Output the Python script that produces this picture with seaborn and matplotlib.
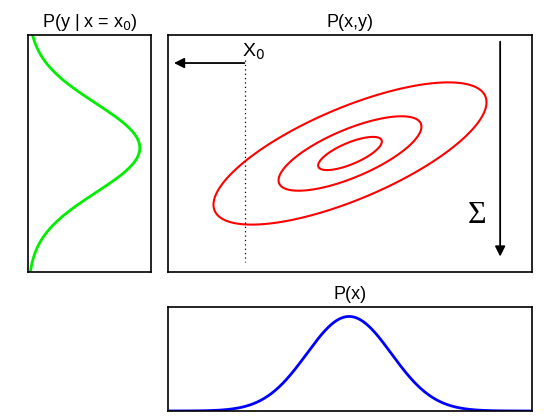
import numpy as np
import pandas as pd
import seaborn as sns
import matplotlib.pyplot as plt

# joint gaussian P(x,y) parameters
joint_mean = [0.0, 0.0]
joint_sigma = [1.0, 0.6]
joint_rho = 0.72
contour_radii = [0.7, 1.57, 3.0]   # mahalanobis radius of each ellipse

# marginal P(x) and conditional P(y | x = x0)
marg_mean, marg_sigma = -0.02, 0.93
cond_mean, cond_sigma = 0.14, 1.13
x0 = -2.31

titles = ['P(y | x = x$_0$)', 'P(x,y)', 'P(x)']

sns.set_style('white')
plt.rcParams['font.family'] = ['Liberation Sans', 'DejaVu Sans']
plt.rcParams['text.color'] = 'black'

fig = plt.figure(figsize=(5.6, 4.2), dpi=100)
ax_left = fig.add_axes([0.05, 0.3524, 0.2196, 0.5643])
ax_main = fig.add_axes([0.30, 0.3524, 0.65, 0.5643])
ax_bot = fig.add_axes([0.30, 0.0214, 0.65, 0.2476])

xlim = (-4, 4)
ylim = (-3, 3)

# ---- joint density contours
xs = np.linspace(*xlim, 400)
ys = np.linspace(*ylim, 400)
X, Y = np.meshgrid(xs, ys)
dx = (X - joint_mean[0]) / joint_sigma[0]
dy = (Y - joint_mean[1]) / joint_sigma[1]
q = (dx**2 - 2 * joint_rho * dx * dy + dy**2) / (1 - joint_rho**2)
Z = np.exp(-q / 2)
levels = sorted(np.exp(-np.array(contour_radii)**2 / 2))
ax_main.contour(X, Y, Z, levels=levels, colors='#ff0000', linewidths=1.5)

# dotted line at x0, arrow to the left, arrow down with sigma
ax_main.plot([x0, x0], [2.37, -2.75], color='black', ls=(0, (1, 2.5)), lw=0.9)
ax_main.annotate('', xy=(-3.93, 2.29), xytext=(x0 + 0.05, 2.29),
                 arrowprops=dict(arrowstyle='-|>', color='black', lw=1.3,
                                 mutation_scale=15))
ax_main.text(x0 - 0.06, 2.44, 'X$_0$', fontsize=14, ha='left', va='baseline',
             color='black')
ax_main.annotate('', xy=(3.3, -2.68), xytext=(3.3, 2.9),
                 arrowprops=dict(arrowstyle='-|>', color='black', lw=1.3,
                                 mutation_scale=15))
ax_main.text(2.79, -1.56, 'Σ', fontsize=23, family='Liberation Serif',
             ha='center', va='center', color='black')
ax_main.set_xlim(xlim)
ax_main.set_ylim(ylim)

# ---- marginal P(x)
px = pd.DataFrame({'x': xs})
px['p'] = np.exp(-0.5 * ((px['x'] - marg_mean) / marg_sigma)**2)
sns.lineplot(data=px, x='x', y='p', color='#0000ff', lw=2, ax=ax_bot)
ax_bot.set_xlim(xlim)
ax_bot.set_ylim(0, 1.1)

# ---- conditional P(y | x = x0)
py = pd.DataFrame({'y': ys})
py['p'] = np.exp(-0.5 * ((py['y'] - cond_mean) / cond_sigma)**2)
sns.lineplot(data=py, x='p', y='y', sort=False, orient='y', color='#00ee00',
             lw=2, ax=ax_left)
ax_left.set_ylim(ylim)
ax_left.set_xlim(0, 1.1)

for ax, t in zip([ax_left, ax_main, ax_bot], titles):
    ax.set_title(t, fontsize=13, pad=6, color='black')
    ax.set_xticks([])
    ax.set_yticks([])
    ax.set_xlabel('')
    ax.set_ylabel('')
    for s in ax.spines.values():
        s.set_color('black')
        s.set_linewidth(1.2)

fig.savefig('out.png', dpi=100)
